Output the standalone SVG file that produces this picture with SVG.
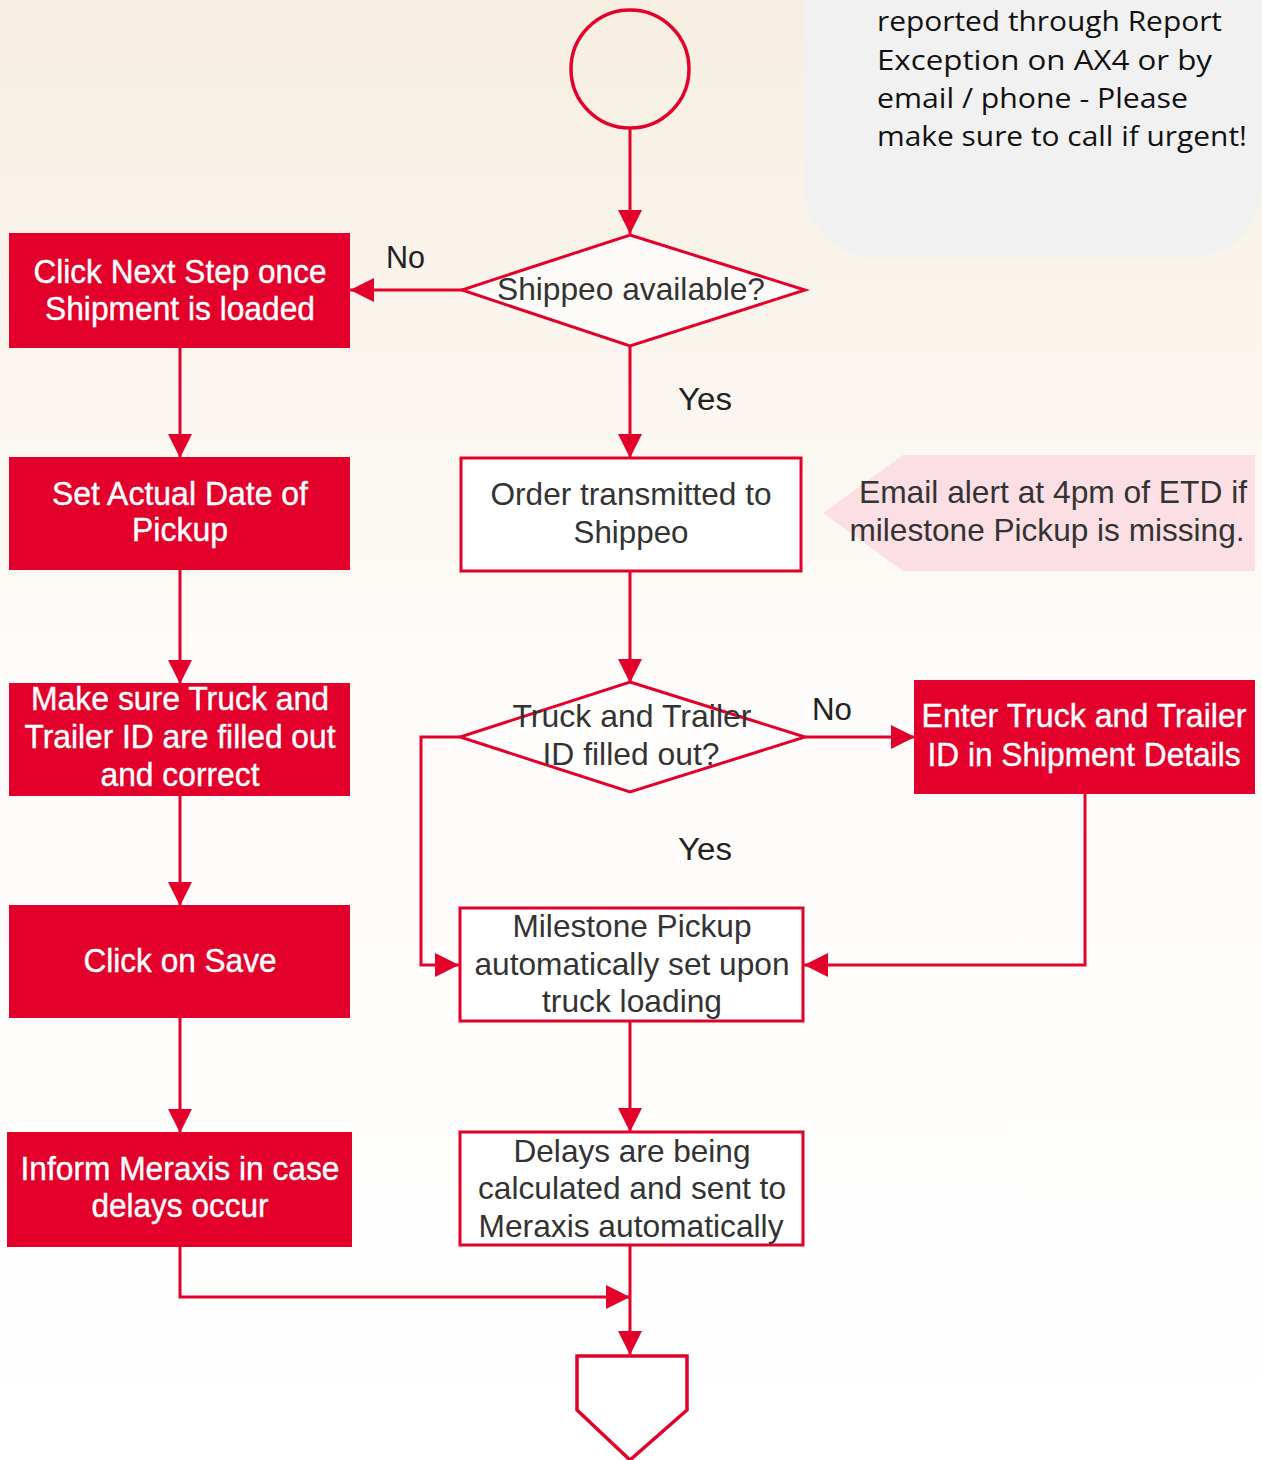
<svg xmlns="http://www.w3.org/2000/svg" width="1262" height="1460" viewBox="0 0 1262 1460">
<defs>
<linearGradient id="bg" x1="0" y1="0" x2="0" y2="1">
<stop offset="0" stop-color="#f6eee1"/>
<stop offset="0.48" stop-color="#fefcfa"/>
<stop offset="1" stop-color="#ffffff"/>
</linearGradient>
<marker id="a" viewBox="0 0 24 24" refX="24" refY="12" markerWidth="24" markerHeight="24" markerUnits="userSpaceOnUse" orient="auto">
<path d="M0,0 L24,12 L0,24 Z" fill="#e3002b"/>
</marker>
<style>
.rb{fill:#e3002b;stroke:#e3002b;stroke-width:2}
.wb{fill:#ffffff;stroke:#e3002b;stroke-width:3}
.wt{font-family:"Liberation Sans",Arial,sans-serif;font-size:33px;fill:#ffffff;text-anchor:middle;stroke:#ffffff;stroke-width:0.4}
.dt{font-family:"Liberation Sans",Arial,sans-serif;font-size:32px;fill:#333333;text-anchor:middle}
.lb{font-family:"Liberation Sans",Arial,sans-serif;font-size:31px;fill:#222222}
.nt{font-family:"Open Sans","Noto Sans",sans-serif;font-size:27px;fill:#111111}
.cn{fill:none;stroke:#e3002b;stroke-width:3}
</style>
</defs>
<rect x="0" y="0" width="1262" height="1460" fill="url(#bg)"/>

<g id="note">
<rect x="804" y="-90" width="458" height="348" rx="72" fill="#f1f1f1"/>
<text class="nt" x="877" y="31" textLength="345" lengthAdjust="spacingAndGlyphs">reported through Report</text>
<text class="nt" x="877" y="70" textLength="335" lengthAdjust="spacingAndGlyphs">Exception on AX4 or by</text>
<text class="nt" x="877" y="108" textLength="311" lengthAdjust="spacingAndGlyphs">email / phone - Please</text>
<text class="nt" x="877" y="146" textLength="370" lengthAdjust="spacingAndGlyphs">make sure to call if urgent!</text>
</g>

<g id="connectors">
<line class="cn" x1="630" y1="128" x2="630" y2="234" marker-end="url(#a)"/>
<line class="cn" x1="462" y1="290" x2="350" y2="290" marker-end="url(#a)"/>
<line class="cn" x1="630" y1="346" x2="630" y2="458" marker-end="url(#a)"/>
<line class="cn" x1="630" y1="571" x2="630" y2="683" marker-end="url(#a)"/>
<line class="cn" x1="805" y1="737" x2="915" y2="737" marker-end="url(#a)"/>
<polyline class="cn" points="460,737 421,737 421,965 459,965" marker-end="url(#a)"/>
<polyline class="cn" points="1085,793 1085,965 804,965" marker-end="url(#a)"/>
<line class="cn" x1="630" y1="1021" x2="630" y2="1132" marker-end="url(#a)"/>
<line class="cn" x1="630" y1="1245" x2="630" y2="1355" marker-end="url(#a)"/>
<polyline class="cn" points="180,1246 180,1297 630,1297" marker-end="url(#a)"/>
<line class="cn" x1="180" y1="347" x2="180" y2="458" marker-end="url(#a)"/>
<line class="cn" x1="180" y1="569" x2="180" y2="684" marker-end="url(#a)"/>
<line class="cn" x1="180" y1="795" x2="180" y2="906" marker-end="url(#a)"/>
<line class="cn" x1="180" y1="1017" x2="180" y2="1133" marker-end="url(#a)"/>
<text class="lb" x="386" y="268" textLength="39" lengthAdjust="spacingAndGlyphs">No</text>
<text class="lb" x="678" y="410" textLength="54" lengthAdjust="spacingAndGlyphs">Yes</text>
<text class="lb" x="812" y="720" textLength="40" lengthAdjust="spacingAndGlyphs">No</text>
<text class="lb" x="678" y="860" textLength="54" lengthAdjust="spacingAndGlyphs">Yes</text>
</g>

<g id="start">
<ellipse cx="630" cy="69" rx="59" ry="59" fill="none" stroke="#e3002b" stroke-width="3.5"/>
</g>

<g id="shippeo-available">
<polygon class="wb" points="630,235 805,290 630,346 462,290" fill-opacity="0.6"/>
<text class="dt" x="631" y="300" textLength="268" lengthAdjust="spacingAndGlyphs">Shippeo available?</text>
</g>

<g id="click-next-step">
<rect class="rb" x="10" y="234" width="339" height="113"/>
<text class="wt" x="180" y="283" textLength="293" lengthAdjust="spacingAndGlyphs">Click Next Step once</text>
<text class="wt" x="180" y="320" textLength="270" lengthAdjust="spacingAndGlyphs">Shipment is loaded</text>
</g>

<g id="set-actual-date">
<rect class="rb" x="10" y="458" width="339" height="111"/>
<text class="wt" x="180" y="505" textLength="256" lengthAdjust="spacingAndGlyphs">Set Actual Date of</text>
<text class="wt" x="180" y="541" textLength="96" lengthAdjust="spacingAndGlyphs">Pickup</text>
</g>

<g id="make-sure">
<rect class="rb" x="10" y="684" width="339" height="111"/>
<text class="wt" x="180" y="710" textLength="298" lengthAdjust="spacingAndGlyphs">Make sure Truck and</text>
<text class="wt" x="180" y="748" textLength="311" lengthAdjust="spacingAndGlyphs">Trailer ID are filled out</text>
<text class="wt" x="180" y="786" textLength="159" lengthAdjust="spacingAndGlyphs">and correct</text>
</g>

<g id="click-save">
<rect class="rb" x="10" y="906" width="339" height="111"/>
<text class="wt" x="180" y="972" textLength="193" lengthAdjust="spacingAndGlyphs">Click on Save</text>
</g>

<g id="inform-meraxis">
<rect class="rb" x="8" y="1133" width="343" height="113"/>
<text class="wt" x="180" y="1180" textLength="319" lengthAdjust="spacingAndGlyphs">Inform Meraxis in case</text>
<text class="wt" x="180" y="1217" textLength="177" lengthAdjust="spacingAndGlyphs">delays occur</text>
</g>

<g id="order-transmitted">
<rect class="wb" x="461" y="458" width="340" height="113"/>
<text class="dt" x="631" y="505" textLength="281" lengthAdjust="spacingAndGlyphs">Order transmitted to</text>
<text class="dt" x="631" y="543" textLength="115" lengthAdjust="spacingAndGlyphs">Shippeo</text>
</g>

<g id="email-alert">
<polygon points="823,513 903,455 1255,455 1255,571 903,571" fill="#fbdfe4"/>
<text class="dt" x="1053" y="503" textLength="388" lengthAdjust="spacingAndGlyphs">Email alert at 4pm of ETD if</text>
<text class="dt" x="1047" y="541" textLength="395" lengthAdjust="spacingAndGlyphs">milestone Pickup is missing.</text>
</g>

<g id="truck-trailer-filled">
<polygon class="wb" points="630,682 805,737 630,792 460,737" fill-opacity="0.6"/>
<text class="dt" x="632" y="727" textLength="239" lengthAdjust="spacingAndGlyphs">Truck and Trailer</text>
<text class="dt" x="631" y="765" textLength="177" lengthAdjust="spacingAndGlyphs">ID filled out?</text>
</g>

<g id="enter-truck-trailer">
<rect class="rb" x="915" y="681" width="339" height="112"/>
<text class="wt" x="1084" y="727" textLength="325" lengthAdjust="spacingAndGlyphs">Enter Truck and Trailer</text>
<text class="wt" x="1084" y="766" textLength="313" lengthAdjust="spacingAndGlyphs">ID in Shipment Details</text>
</g>

<g id="milestone-pickup">
<rect class="wb" x="460" y="908" width="343" height="113"/>
<text class="dt" x="632" y="937" textLength="239" lengthAdjust="spacingAndGlyphs">Milestone Pickup</text>
<text class="dt" x="632" y="975" textLength="315" lengthAdjust="spacingAndGlyphs">automatically set upon</text>
<text class="dt" x="632" y="1012" textLength="180" lengthAdjust="spacingAndGlyphs">truck loading</text>
</g>

<g id="delays-calculated">
<rect class="wb" x="460" y="1132" width="343" height="113"/>
<text class="dt" x="632" y="1162" textLength="237" lengthAdjust="spacingAndGlyphs">Delays are being</text>
<text class="dt" x="632" y="1199" textLength="308" lengthAdjust="spacingAndGlyphs">calculated and sent to</text>
<text class="dt" x="631" y="1237" textLength="305" lengthAdjust="spacingAndGlyphs">Meraxis automatically</text>
</g>

<g id="end">
<polygon points="577,1356 687,1356 687,1410 630,1460 577,1410" fill="#ffffff" stroke="#e3002b" stroke-width="3.5"/>
</g>
</svg>
